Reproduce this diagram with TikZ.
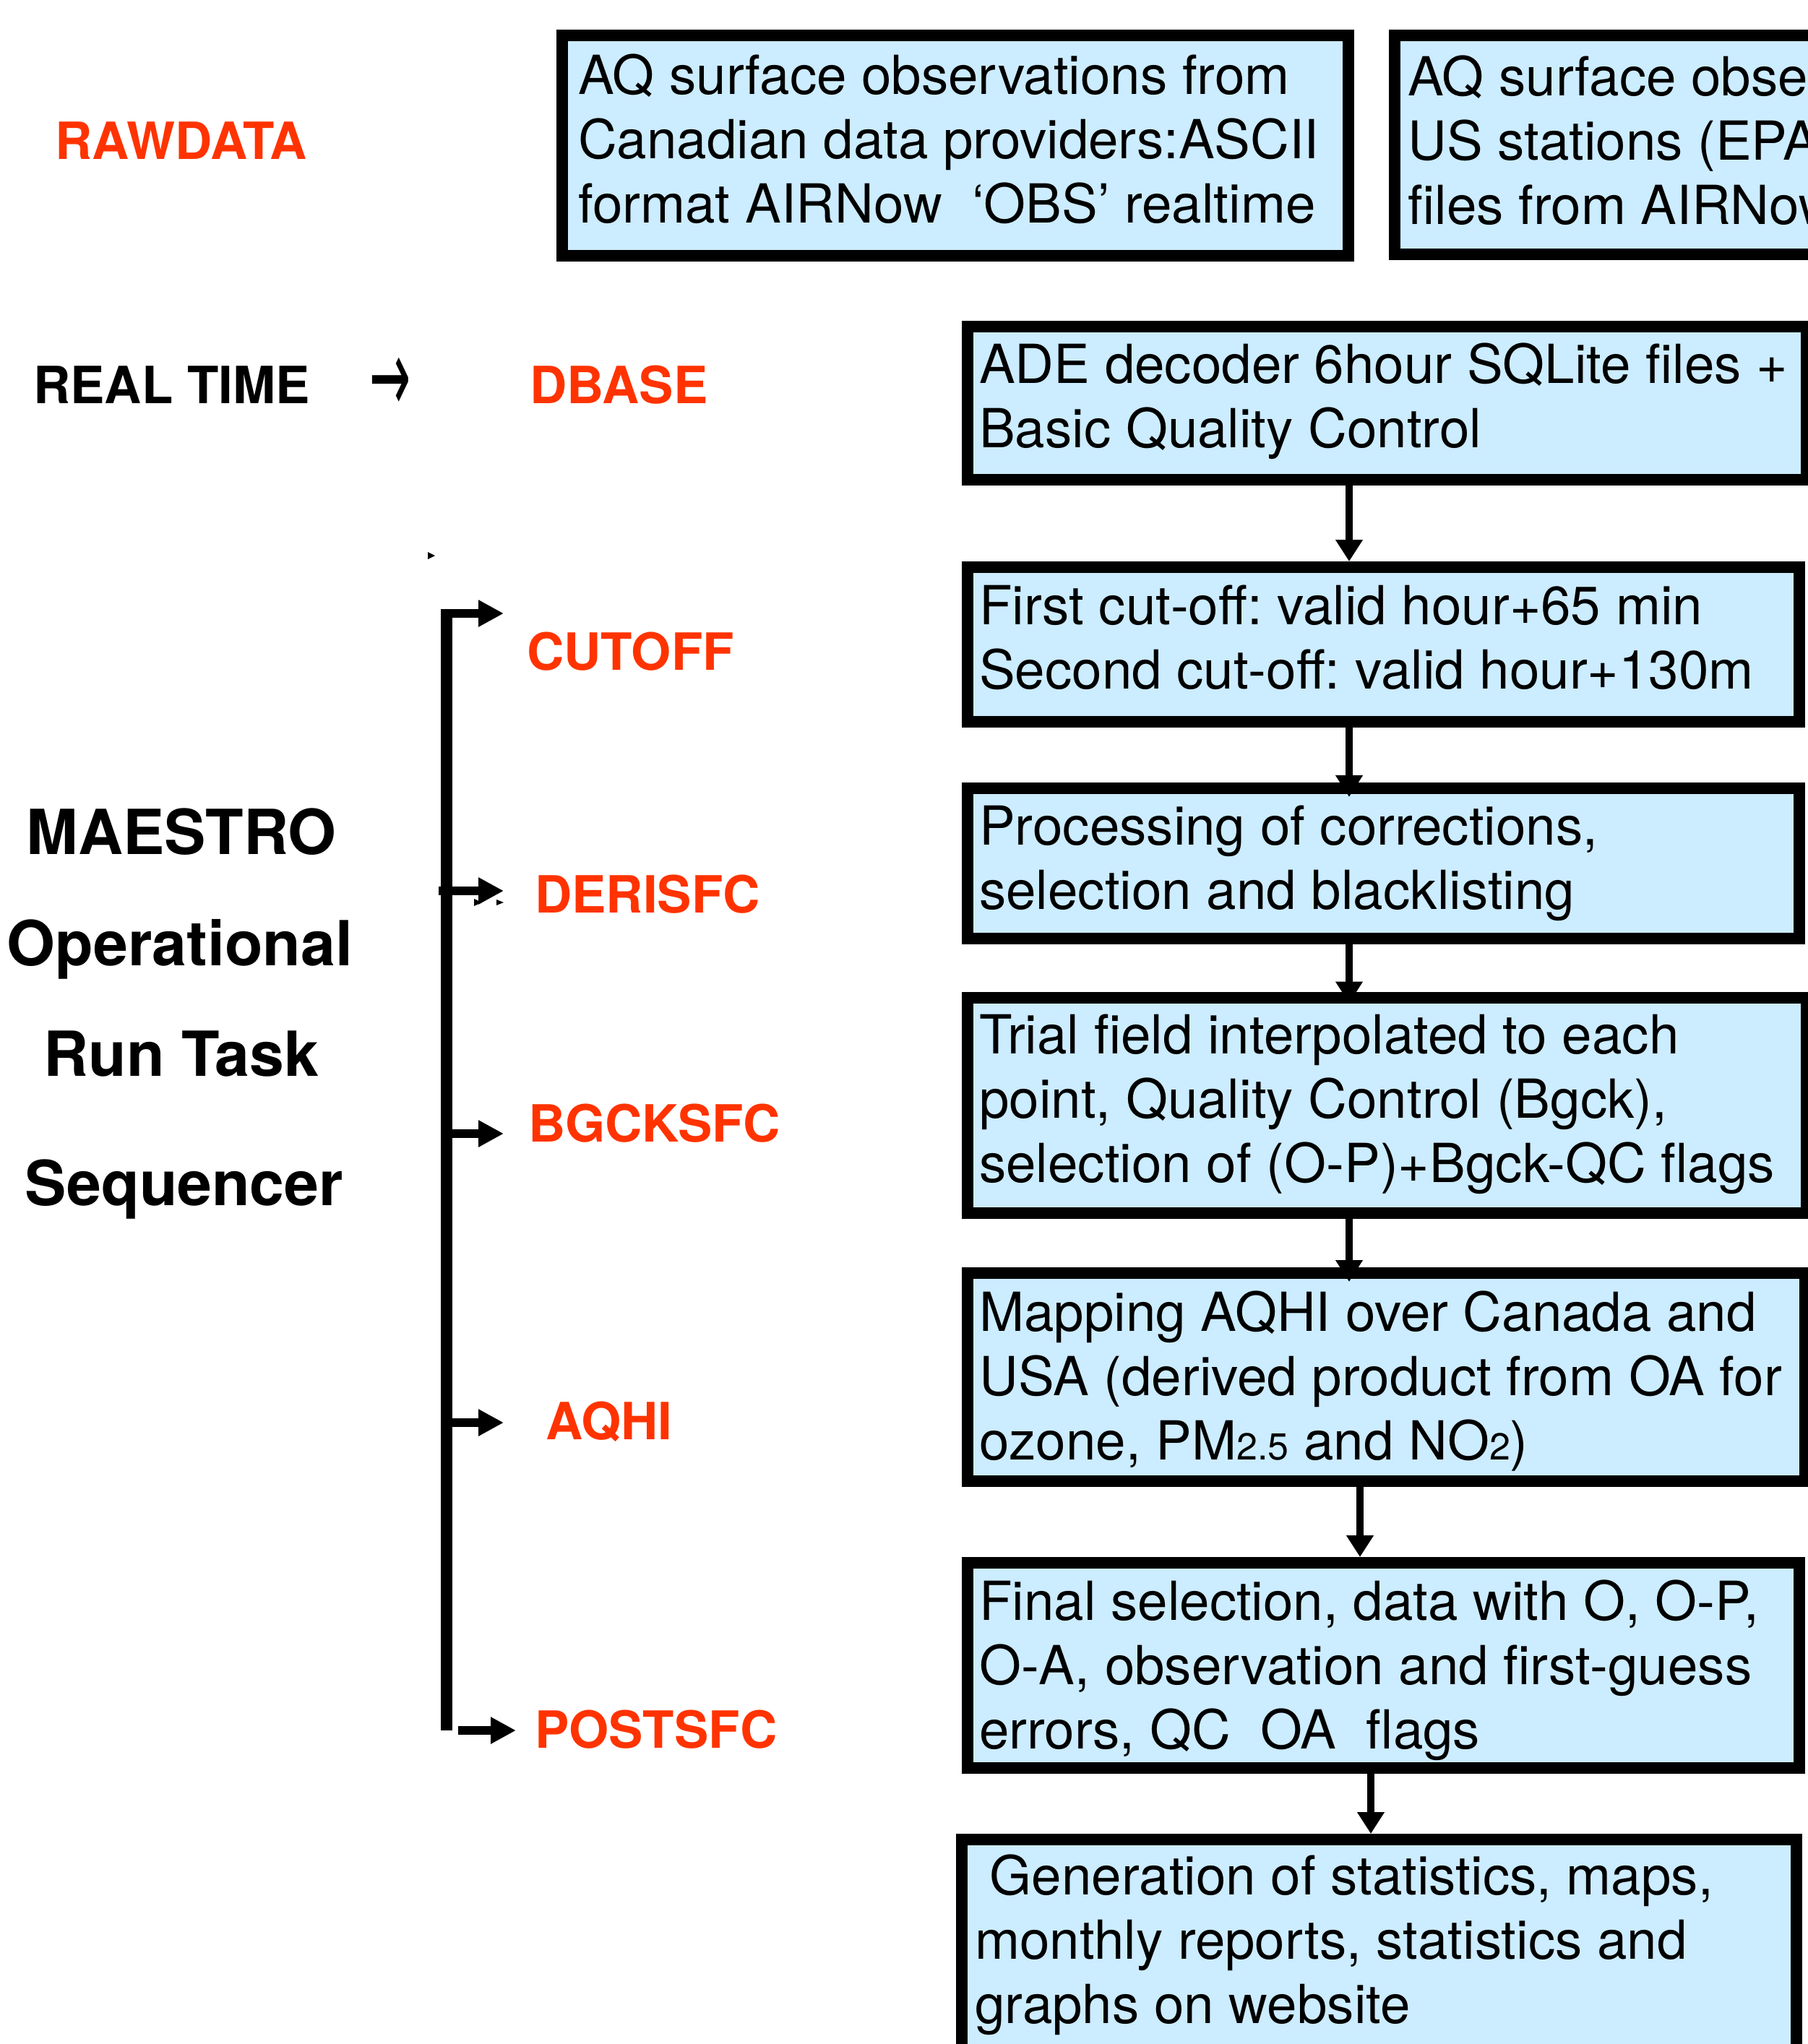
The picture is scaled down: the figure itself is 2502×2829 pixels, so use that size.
\documentclass[tikz,border=0pt]{standalone}
\usepackage{fontspec}
\setmainfont{TeX Gyre Heros}
\newfontfamily\symfont{DejaVu Sans}
\usetikzlibrary{arrows.meta}
\definecolor{boxblue}{RGB}{204,236,255}
\definecolor{taskred}{RGB}{255,51,0}
\newcommand{\smallnum}[1]{{\fontsize{52}{52}\selectfont #1}}
\frenchspacing
\begin{document}
\frenchspacing
\begin{tikzpicture}[x=1pt,y=-1pt,
  flowbox/.style={draw=black, line width=16pt, fill=boxblue, rectangle, inner sep=0pt},
  boxtext/.style={anchor=base west, align=left, inner sep=0pt, font=\fontsize{74.5}{89}\selectfont\frenchspacing},
  tasklabel/.style={anchor=base west, inner sep=0pt, text=taskred, font=\fontsize{71}{71}\selectfont\bfseries},
  blacklabel/.style={anchor=base west, inner sep=0pt, font=\fontsize{71}{71}\selectfont\bfseries},
  bigtitle/.style={anchor=base, inner sep=0pt, font=\fontsize{86}{86}\selectfont\bfseries},
  flowarrow/.style={line width=10pt, -{Triangle[length=30pt,width=36pt]}},
  spine/.style={line width=16pt},
  taskarrow/.style={line width=12pt, -{Triangle[length=35pt,width=35pt]}},
  speck/.style={fill=black}
]
\useasboundingbox (0,0) rectangle (2502,2829);
\fill[white] (0,0) rectangle (2502,2829);
\clip (0,0) rectangle (2502,2829);

% ---------- flow boxes ----------
\node[flowbox, minimum width=1088pt, minimum height=305pt] (b1) at (1322,201.5) {};
\node[flowbox, minimum width=770pt, minimum height=303pt] (b2) at (2315,200.5) {};
\node[flowbox, minimum width=1161pt, minimum height=212pt] (b3) at (1919.5,558) {};
\node[flowbox, minimum width=1151pt, minimum height=214pt] (b4) at (1914.5,892) {};
\node[flowbox, minimum width=1151pt, minimum height=208pt] (b5) at (1914.5,1195) {};
\node[flowbox, minimum width=1161pt, minimum height=298pt] (b6) at (1919.5,1529.5) {};
\node[flowbox, minimum width=1159pt, minimum height=288pt] (b7) at (1918.5,1906) {};
\node[flowbox, minimum width=1151pt, minimum height=284pt] (b8) at (1914.5,2305) {};
\node[flowbox, minimum width=1155pt, minimum height=354pt] (b9) at (1908.5,2723) {};

% ---------- box texts (anchored at the baseline of their last line) ----------
\node[boxtext] (t1) at (800,308) {AQ surface observations from\\Canadian data providers:ASCII\\format AIRNow\ \ ‘OBS’ realtime};
\node[boxtext] (t2) at (1948,310) {AQ surface observations from\\US stations (EPA)\\files from AIRNow};
\node[boxtext] (t3) at (1355,619) {ADE decoder 6hour SQLite files +\\Basic Quality Control};
\node[boxtext] (t4) at (1355,953) {First cut-off: valid hour+65 min\\Second cut-off: valid hour+130m};
\node[boxtext] (t5) at (1355,1258) {Processing of corrections,\\selection and blacklisting};
\node[boxtext] (t6) at (1355,1636) {Trial field interpolated to each\\point, Quality Control (Bgck),\\selection of (O-P)+Bgck-QC flags};
\node[boxtext] (t7) at (1355,2020) {Mapping AQHI over Canada and\\USA (derived product from OA for\\ozone, PM\smallnum{2.5} and NO\smallnum{2})};
\node[boxtext] (t8) at (1355,2420) {Final selection, data with O, O-P,\\O-A, observation and first-guess\\errors, QC\ \ OA\ \ flags};
\node[boxtext] (t9) at (1349,2800) {\ Generation of statistics, maps,\\monthly reports, statistics and\\graphs on website};

% ---------- box-to-box arrows ----------
\coordinate (ax1) at (1867,0);
\coordinate (ax2) at (1882,0);
\coordinate (ax3) at (1897,0);
\draw[flowarrow] (b3.south -| ax1) -- (b4.north -| ax1);
\draw[flowarrow, shorten >=-20pt] (b4.south -| ax1) -- (b5.north -| ax1);
\draw[flowarrow, shorten >=-16pt] (b5.south -| ax1) -- (b6.north -| ax1);
\draw[flowarrow, shorten >=-20pt] (b6.south -| ax1) -- (b7.north -| ax1);
\draw[flowarrow] (b7.south -| ax2) -- (b8.north -| ax2);
\draw[flowarrow] (b8.south -| ax3) -- (b9.north -| ax3);

% ---------- left labels ----------
\node[tasklabel] (rawdata) at (76,220) {RAWDATA};
\node[blacklabel] (realtime) at (46,558) {REAL TIME};
\node[anchor=center, inner sep=0pt, font=\symfont\fontsize{110}{110}\selectfont] (rtarrow) at (540,533) {\scalebox{0.62}[1.3]{→}};
\node[tasklabel] (dbase) at (733,558) {DBASE};
\node[tasklabel] (cutoff) at (729,927) {CUTOFF};
\node[tasklabel] (derisfc) at (740,1263) {DERISFC};
\node[tasklabel] (bgcksfc) at (731,1580) {BGCKSFC};
\node[tasklabel] (aqhi) at (755,1992) {AQHI};
\node[tasklabel] (postsfc) at (740,2419) {POSTSFC};

\node[bigtitle] (maestro) at (251,1182) {MAESTRO};
\node[bigtitle] (operational) at (249,1336) {Operational};
\node[bigtitle] (runtask) at (251,1489) {Run Task};
\node[bigtitle] (sequencer) at (255,1668) {Sequencer};

% ---------- sequencer spine and task arrows ----------
\coordinate (stop) at (618,843);
\coordinate (sbot) at (618,2395);
\draw[spine] (stop) -- (sbot);
\coordinate (s1) at (612,849);   \coordinate (e1) at (697,849);
\coordinate (s2) at (607,1233);  \coordinate (e2) at (697,1233);
\coordinate (s3) at (618,1569);  \coordinate (e3) at (697,1569);
\coordinate (s4) at (618,1969);  \coordinate (e4) at (697,1969);
\coordinate (s5) at (634,2395);  \coordinate (e5) at (714,2395);
\draw[taskarrow] (s1) -- (e1);
\draw[taskarrow] (s2) -- (e2);
\draw[taskarrow] (s3) -- (e3);
\draw[taskarrow] (s4) -- (e4);
\draw[taskarrow] (s5) -- (e5);

% ---------- small stray marks ----------
\fill[speck] (592,764) -- (602,769) -- (592,774) -- cycle;
\fill[speck] (656,1244) -- (667,1249) -- (656,1254) -- cycle;
\fill[speck] (687,1245) -- (697,1249) -- (687,1253) -- cycle;
\end{tikzpicture}
\end{document}
